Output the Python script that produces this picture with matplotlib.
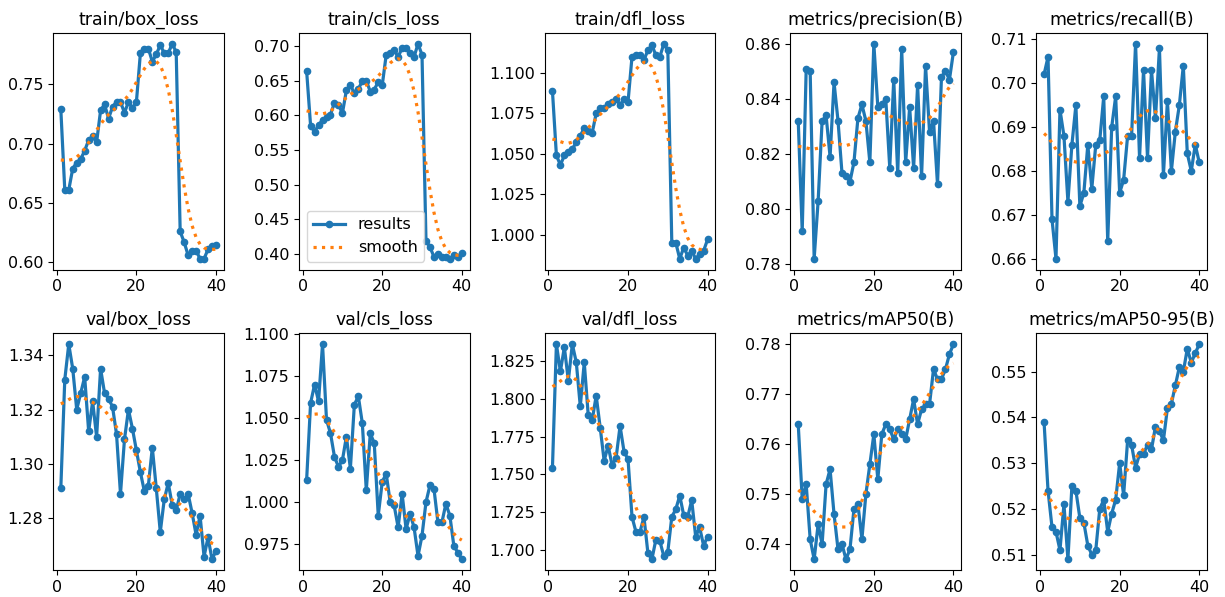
import numpy as np
import matplotlib
matplotlib.use("Agg")
import matplotlib.pyplot as plt

epochs = list(range(1, 41))

train_box_loss = [0.729, 0.661, 0.661, 0.679, 0.684, 0.687, 0.694, 0.703, 0.706, 0.701,
                  0.728, 0.733, 0.721, 0.731, 0.735, 0.735, 0.726, 0.735, 0.730, 0.735,
                  0.776, 0.780, 0.780, 0.769, 0.775, 0.783, 0.776, 0.776, 0.784, 0.777,
                  0.626, 0.617, 0.606, 0.610, 0.610, 0.603, 0.603, 0.611, 0.614, 0.615]
train_cls_loss = [0.664, 0.585, 0.576, 0.586, 0.593, 0.597, 0.601, 0.618, 0.615, 0.603,
                  0.636, 0.643, 0.632, 0.638, 0.649, 0.650, 0.634, 0.637, 0.648, 0.643,
                  0.687, 0.690, 0.694, 0.684, 0.697, 0.697, 0.690, 0.684, 0.703, 0.687,
                  0.419, 0.410, 0.396, 0.400, 0.395, 0.395, 0.393, 0.398, 0.396, 0.401]
train_dfl_loss = [1.089, 1.049, 1.043, 1.049, 1.051, 1.053, 1.057, 1.061, 1.066, 1.064,
                  1.063, 1.075, 1.078, 1.078, 1.081, 1.082, 1.084, 1.080, 1.084, 1.082,
                  1.110, 1.111, 1.111, 1.108, 1.114, 1.117, 1.111, 1.110, 1.118, 1.114,
                  0.995, 0.995, 0.985, 0.992, 0.987, 0.990, 0.985, 0.988, 0.990, 0.997]
precision = [0.832, 0.792, 0.851, 0.850, 0.782, 0.803, 0.832, 0.834, 0.819, 0.846,
             0.832, 0.813, 0.812, 0.810, 0.817, 0.833, 0.838, 0.832, 0.817, 0.860,
             0.837, 0.838, 0.840, 0.815, 0.847, 0.813, 0.858, 0.817, 0.837, 0.815,
             0.845, 0.812, 0.852, 0.828, 0.832, 0.809, 0.848, 0.850, 0.847, 0.857]
recall = [0.702, 0.706, 0.669, 0.660, 0.694, 0.688, 0.673, 0.686, 0.695, 0.672,
          0.675, 0.686, 0.676, 0.686, 0.687, 0.697, 0.664, 0.690, 0.697, 0.675,
          0.678, 0.688, 0.688, 0.709, 0.683, 0.703, 0.683, 0.703, 0.692, 0.708,
          0.679, 0.696, 0.680, 0.689, 0.695, 0.704, 0.684, 0.680, 0.686, 0.682]
val_box_loss = [1.291, 1.331, 1.344, 1.335, 1.320, 1.326, 1.332, 1.312, 1.323, 1.310,
                1.335, 1.326, 1.324, 1.321, 1.311, 1.289, 1.309, 1.320, 1.313, 1.305,
                1.297, 1.290, 1.292, 1.306, 1.291, 1.275, 1.287, 1.293, 1.285, 1.283,
                1.289, 1.287, 1.289, 1.282, 1.274, 1.281, 1.266, 1.273, 1.265, 1.268]
val_cls_loss = [1.013, 1.059, 1.070, 1.060, 1.094, 1.049, 1.041, 1.027, 1.021, 1.025,
                1.039, 1.020, 1.058, 1.063, 1.047, 1.007, 1.041, 1.035, 0.992, 1.012,
                1.017, 1.000, 0.998, 0.985, 1.005, 0.984, 0.993, 0.985, 0.968, 0.980,
                1.000, 1.010, 1.008, 0.988, 0.988, 0.999, 0.992, 0.974, 0.970, 0.966]
val_dfl_loss = [1.754, 1.836, 1.818, 1.834, 1.812, 1.836, 1.824, 1.795, 1.824, 1.789,
                1.786, 1.802, 1.781, 1.759, 1.769, 1.756, 1.761, 1.782, 1.765, 1.760,
                1.722, 1.712, 1.712, 1.722, 1.698, 1.694, 1.707, 1.706, 1.696, 1.699,
                1.722, 1.727, 1.736, 1.723, 1.722, 1.733, 1.709, 1.715, 1.703, 1.709]
map50 = [0.764, 0.749, 0.752, 0.741, 0.737, 0.744, 0.740, 0.752, 0.755, 0.746,
         0.739, 0.740, 0.737, 0.739, 0.747, 0.748, 0.741, 0.750, 0.756, 0.762,
         0.753, 0.762, 0.764, 0.763, 0.761, 0.763, 0.762, 0.761, 0.765, 0.769,
         0.764, 0.767, 0.768, 0.768, 0.775, 0.773, 0.773, 0.775, 0.778, 0.780]
map50_95 = [0.539, 0.524, 0.516, 0.515, 0.511, 0.521, 0.509, 0.525, 0.524, 0.518,
            0.517, 0.512, 0.510, 0.511, 0.520, 0.522, 0.515, 0.519, 0.522, 0.530,
            0.523, 0.535, 0.534, 0.529, 0.532, 0.532, 0.534, 0.533, 0.538, 0.537,
            0.535, 0.542, 0.543, 0.547, 0.551, 0.550, 0.555, 0.552, 0.554, 0.556]

titles = ["train/box_loss", "train/cls_loss", "train/dfl_loss", "metrics/precision(B)",
          "metrics/recall(B)", "val/box_loss", "val/cls_loss", "val/dfl_loss",
          "metrics/mAP50(B)", "metrics/mAP50-95(B)"]
series = [train_box_loss, train_cls_loss, train_dfl_loss, precision, recall,
          val_box_loss, val_cls_loss, val_dfl_loss, map50, map50_95]


def gaussian_smooth(y, sigma=3.0, truncate=4.0):
    y = np.asarray(y, dtype=float)
    r = int(truncate * sigma + 0.5)
    k = np.arange(-r, r + 1)
    w = np.exp(-0.5 * (k / sigma) ** 2)
    w /= w.sum()
    padded = np.concatenate([y[:r][::-1], y, y[-r:][::-1]])
    return np.convolve(padded, w, mode="valid")


plt.rcParams["xtick.labelsize"] = 11.5
plt.rcParams["ytick.labelsize"] = 11.5
plt.rcParams["legend.fontsize"] = 11.5

fig, axes = plt.subplots(2, 5, figsize=(12.25, 5.97), dpi=100)
fig.subplots_adjust(left=0.0433, right=0.9853, top=0.9447, bottom=0.0452,
                    wspace=0.44, hspace=0.27)
axes = axes.ravel()
for ax, t, y in zip(axes, titles, series):
    ax.plot(epochs, y, marker=".", label="results", linewidth=2.3, markersize=9)
    ax.plot(epochs, gaussian_smooth(y), ":", label="smooth", linewidth=2.3)
    ax.set_title(t, fontsize=12.5)
axes[1].legend()
fig.savefig("out.png", dpi=100)
